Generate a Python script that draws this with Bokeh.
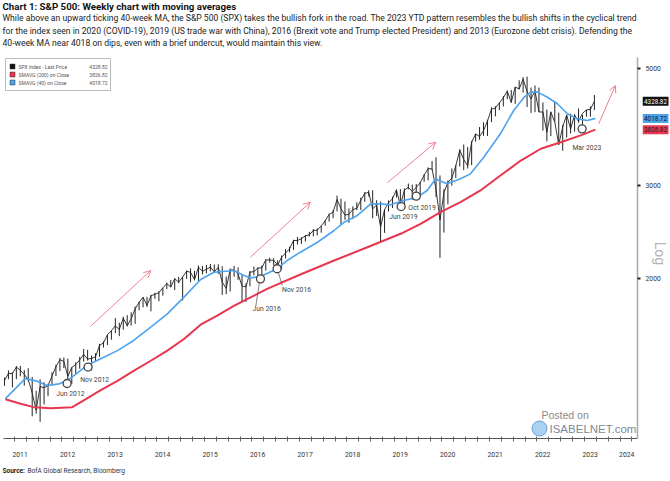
import pandas as pd
from math import log10, pi
from bokeh.plotting import figure
from bokeh.layouts import column, row
from bokeh.models import (Range1d, FixedTicker, CustomJSTickFormatter, Label, Arrow, OpenHead)
from bokeh.core.properties import value
from bokeh.embed import file_html
from bokeh.resources import INLINE

# ---------------- data ----------------
start_month = "2011-01"
end_month = "2023-06"
price_high = [
    1303, 1344, 1332, 1370, 1371, 1346, 1357, 1307, 1230, 1293, 1277, 1269,
    1333, 1378, 1420, 1422, 1415, 1363, 1392, 1426, 1475, 1470, 1434, 1448,
    1509, 1525, 1570, 1598, 1687, 1654, 1698, 1709, 1730, 1775, 1813, 1849,
    1851, 1867, 1884, 1897, 1924, 1968, 1991, 2005, 2019, 2018, 2075, 2094,
    2072, 2120, 2117, 2126, 2135, 2130, 2132, 2113, 2021, 2094, 2117, 2104,
    2038, 1963, 2072, 2111, 2103, 2120, 2178, 2194, 2188, 2169, 2214, 2278,
    2301, 2372, 2401, 2398, 2418, 2454, 2484, 2491, 2519, 2582, 2657, 2695,
    2873, 2835, 2801, 2718, 2742, 2791, 2848, 2917, 2941, 2940, 2816, 2801,
    2708, 2813, 2860, 2949, 2955, 2964, 3028, 3014, 3022, 3050, 3154, 3248,
    3338, 3394, 3136, 2955, 3068, 3233, 3280, 3515, 3588, 3550, 3646, 3760,
    3870, 3950, 3994, 4218, 4238, 4298, 4430, 4537, 4546, 4608, 4743, 4808,
    4819, 4595, 4637, 4594, 4307, 4177, 4140, 4325, 4120, 3905, 4080, 4101,
    4095, 4195, 4079, 4170, 4231, 4448,
]
price_low = [
    1257, 1294, 1249, 1294, 1311, 1258, 1282, 1101, 1114, 1075, 1159, 1202,
    1259, 1312, 1341, 1358, 1291, 1267, 1325, 1354, 1397, 1403, 1343, 1398,
    1426, 1485, 1501, 1536, 1581, 1560, 1604, 1627, 1633, 1646, 1746, 1768,
    1771, 1738, 1834, 1815, 1860, 1915, 1930, 1905, 1964, 1821, 2001, 1972,
    1988, 1981, 2040, 2049, 2068, 2056, 2044, 1867, 1872, 1894, 2019, 1993,
    1812, 1810, 1937, 2033, 2025, 1992, 2074, 2147, 2120, 2114, 2084, 2187,
    2245, 2271, 2322, 2329, 2353, 2405, 2407, 2417, 2446, 2521, 2566, 2605,
    2682, 2533, 2586, 2553, 2594, 2698, 2698, 2796, 2864, 2604, 2631, 2347,
    2444, 2682, 2722, 2849, 2750, 2728, 2952, 2822, 2892, 2855, 3050, 3070,
    3214, 2855, 2192, 2447, 2767, 2999, 3102, 3260, 3209, 3233, 3280, 3633,
    3663, 3725, 3723, 3955, 4056, 4165, 4233, 4367, 4305, 4279, 4560, 4495,
    4223, 4115, 4129, 4132, 3811, 3637, 3721, 3955, 3585, 3492, 3699, 3764,
    3794, 3944, 3809, 4049, 4048, 4166,
]
price_close = [
    1286, 1327, 1326, 1364, 1345, 1321, 1292, 1219, 1131, 1253, 1247, 1258,
    1312, 1366, 1408, 1398, 1310, 1362, 1379, 1407, 1441, 1412, 1416, 1426,
    1498, 1515, 1569, 1598, 1631, 1606, 1686, 1633, 1682, 1757, 1806, 1848,
    1783, 1859, 1872, 1884, 1924, 1960, 1931, 2003, 1972, 2018, 2068, 2059,
    1995, 2105, 2068, 2086, 2107, 2063, 2104, 1972, 1920, 2079, 2080, 2044,
    1940, 1932, 2060, 2065, 2097, 2099, 2174, 2171, 2168, 2126, 2199, 2239,
    2279, 2364, 2363, 2384, 2412, 2423, 2470, 2472, 2519, 2575, 2648, 2674,
    2824, 2714, 2641, 2648, 2705, 2718, 2816, 2902, 2914, 2712, 2760, 2507,
    2704, 2784, 2834, 2946, 2752, 2942, 2980, 2926, 2977, 3038, 3141, 3231,
    3226, 2954, 2585, 2912, 3044, 3100, 3271, 3500, 3363, 3270, 3622, 3756,
    3714, 3811, 3973, 4181, 4204, 4298, 4395, 4523, 4308, 4605, 4567, 4766,
    4516, 4374, 4530, 4132, 4132, 3785, 4130, 3955, 3586, 3872, 4080, 3840,
    4077, 3970, 4109, 4169, 4180, 4328.82,
]

# 40-week moving average (blue), decimal year / value
ma40_date = [2011.06, 2011.27, 2011.48, 2011.73, 2011.94, 2012.19, 2012.36, 2012.78,
             2012.99, 2013.42, 2013.76, 2014.12, 2014.47, 2014.82, 2015.17, 2015.45,
             2015.87, 2016.08, 2016.22, 2016.43, 2016.78, 2016.99, 2017.27, 2017.63,
             2017.98, 2018.19, 2018.47, 2018.75, 2018.96, 2019.17, 2019.45, 2019.73,
             2019.94, 2020.12, 2020.19, 2020.36, 2020.64, 2020.85, 2021.13, 2021.48,
             2021.76, 2021.98, 2022.12, 2022.26, 2022.47, 2022.68, 2022.89, 2023.10,
             2023.31, 2023.48]
ma40_value = [1189, 1242, 1297, 1283, 1259, 1268, 1285, 1374,
              1403, 1465, 1531, 1622, 1719, 1848, 1995, 2060,
              2075, 2030, 2010, 2022, 2091, 2167, 2247, 2346,
              2469, 2560, 2636, 2772, 2772, 2760, 2812, 2853,
              2938, 3091, 3068, 3024, 3091, 3158, 3394, 3758,
              4159, 4406, 4504, 4504, 4406, 4282, 4100, 4011,
              3982, 4018.72]

# 200-week moving average (red)
ma200_date = [2011.06, 2011.38, 2011.66, 2012.01, 2012.47, 2012.71, 2013.06, 2013.42,
              2013.76, 2014.12, 2014.47, 2014.82, 2015.17, 2015.52, 2015.87, 2016.57,
              2017.27, 2017.98, 2018.68, 2019.38, 2019.80, 2020.22, 2020.64, 2021.06,
              2021.48, 2021.91, 2022.33, 2022.75, 2023.17, 2023.48]
ma200_value = [1186, 1163, 1146, 1140, 1146, 1180, 1233, 1285,
               1342, 1402, 1465, 1541, 1640, 1706, 1780, 1916,
               2039, 2167, 2296, 2434, 2542, 2674, 2792, 2938,
               3136, 3346, 3522, 3624, 3732, 3826.82]

# 40-week MA touches that the chart marks
touch_label = ["Jun 2012", "Nov 2012", "Jun 2016", "Nov 2016", "Jun 2019", "Oct 2019", "Mar 2023"]
touch_date = [2012.36, 2012.80, 2016.43, 2016.78, 2019.39, 2019.71, 2023.20]
touch_value = [1270, 1364, 2001, 2091, 2740, 2867, 3840]
touch_label_date = [2012.43, 2012.94, 2016.56, 2017.19, 2019.44, 2019.83, 2023.30]
touch_label_value = [1211, 1292, 1753, 1910, 2616, 2728, 3541]
# leader lines joining two of the markers to their labels
leader_x0 = [2016.41, 2016.80]
leader_y0 = [1975, 2065]
leader_x1 = [2016.33, 2016.89]
leader_y1 = [1775, 1944]

# bullish-shift arrows: start date, start value, end date, end value
arrow_x0 = [2012.85, 2016.22, 2019.10, 2023.55]
arrow_y0 = [1627, 2199, 3038, 3925]
arrow_x1 = [2014.12, 2017.48, 2020.12, 2023.90]
arrow_y1 = [2075, 2792, 3624, 4636]

years = list(range(2011, 2025))
y_ticks = [2000, 3000, 5000]

series_names = ["SPX Index - Last Price", "SMAVG (200)  on Close", "SMAVG (40)  on Close"]
series_last = [4328.82, 3826.82, 4018.72]

title = "Chart 1: S&P 500: Weekly chart with moving averages"
body = [
    "While above an upward ticking 40-week MA, the S&P 500 (SPX) takes the bullish fork in the road. The 2023 YTD pattern resembles the bullish shifts in the cyclical trend",
    "for the index seen in 2020 (COVID-19), 2019 (US trade war with China), 2016 (Brexit vote and Trump elected President) and 2013 (Eurozone debt crisis). Defending the",
    "40-week MA near 4018 on dips, even with a brief undercut, would maintain this view.",
]
source_head = "Source:"
source_text = "BofA Global Research, Bloomberg"

# ---------------- styling / layout ----------------
FONT = "Roboto"
BLACK = "#222222"
RED = "#e8364e"
BLUE = "#4da3ee"
ARROW = "#f08090"

X0, X1 = 2011.021, 2024.366
Y0, Y1 = 1000, 5236
TOP_H, MAIN_W, MAIN_H, SIDE_W, BOT_H = 57, 642, 403, 27, 20
TOTAL_W = MAIN_W + SIDE_W
BL, BR, BB = 3, 5, 22
FW = MAIN_W - BL - BR
FH = MAIN_H - BB


def sx(px):
    return X0 + px / FW * (X1 - X0)


def sy(py):
    return 10 ** (log10(Y0) + py / FH * (log10(Y1) - log10(Y0)))


def blank(w, h, xr, yr):
    f = figure(width=w, height=h, x_range=xr, y_range=yr, x_axis_location=None,
               y_axis_location=None, output_backend="svg", toolbar_location=None,
               min_border=0, outline_line_color=None, background_fill_color="white",
               border_fill_color="white")
    f.grid.visible = False
    return f


# ---- header ----
top = blank(TOTAL_W, TOP_H, Range1d(0, TOTAL_W), Range1d(TOP_H, 0))
top.text(x=[2], y=[6], text=[title], text_font=value(FONT), text_font_size="9.7px",
         text_font_style="bold", text_color="#111111", text_baseline="middle")
top.text(x=[2, 2, 2], y=[17.5, 30, 42.5], text=body, text_font=value(FONT),
         text_font_size="8.6px", text_color="#222222", text_baseline="middle")

# ---- main chart ----
yr = Range1d(Y0, Y1)
p = figure(width=MAIN_W, height=MAIN_H, x_range=Range1d(X0, X1), y_range=yr,
           y_axis_type="log", y_axis_location="right",
           output_backend="svg", toolbar_location=None,
           min_border_left=BL, min_border_right=BR, min_border_top=0, min_border_bottom=BB,
           background_fill_color="white", border_fill_color="white", outline_line_color=None)
p.grid.visible = False

ya = p.yaxis[0]
ya.ticker = FixedTicker(ticks=y_ticks)
ya.axis_line_color = "#a8a8a8"
ya.axis_line_width = 1.5
ya.major_tick_in = 0
ya.major_tick_out = 3
ya.major_tick_line_color = "#222222"
ya.major_tick_line_width = 2
ya.minor_tick_line_color = None
ya.major_label_text_color = None
ya.major_label_text_font_size = "1px"
ya.major_label_standoff = 0

quarters = [y + q / 4 for y in range(2011, 2025) for q in range(4)]
label_pos = [y + 0.37 for y in years[:-1]] + [years[-1] + 0.14]
xa = p.xaxis[0]
xa.ticker = FixedTicker(ticks=label_pos, minor_ticks=quarters)
xa.formatter = CustomJSTickFormatter(code="return Math.floor(tick).toString();")
xa.axis_line_color = "#555555"
xa.major_tick_in = 0
xa.major_tick_out = 0
xa.minor_tick_in = 2
xa.minor_tick_out = 3
xa.minor_tick_line_color = "#666666"
xa.major_label_text_font = FONT
xa.major_label_text_font_size = "6.8px"
xa.major_label_text_color = "#333333"
xa.major_label_standoff = 10

months = pd.period_range(start_month, end_month, freq="M")
month_t = [m.year + (m.month - 0.5) / 12 for m in months]

p.segment(x0=month_t, y0=price_low, x1=month_t, y1=price_high, line_color=BLACK, line_width=1.0)
p.line(month_t, price_close, line_color=BLACK, line_width=0.9)
p.line(ma200_date, ma200_value, line_color=RED, line_width=2)
p.line(ma40_date, ma40_value, line_color=BLUE, line_width=1.6)

for xa0, ya0, xb, yb in zip(arrow_x0, arrow_y0, arrow_x1, arrow_y1):
    p.add_layout(Arrow(end=OpenHead(size=7, line_color=ARROW, line_width=1),
                       x_start=xa0, y_start=ya0, x_end=xb, y_end=yb,
                       line_color=ARROW, line_width=1))

p.segment(x0=leader_x0, y0=leader_y0, x1=leader_x1, y1=leader_y1,
          line_color="#666666", line_width=0.8)
p.scatter(touch_date, touch_value, marker="circle", size=8, fill_color="white",
          line_color="#444444", line_width=1.3)
p.text(x=touch_label_date, y=touch_label_value, text=touch_label, text_font=value(FONT),
       text_font_size="6.8px", text_color="#444444", text_align="center", text_baseline="middle")

# legend box
p.quad(left=[sx(2)], right=[sx(107)], bottom=[sy(348)], top=[sy(380)],
       fill_color="white", line_color="#bbbbbb", line_width=1)
rows = [sy(372), sy(364), sy(356)]
p.scatter(x=[sx(9)] * 3, y=rows, marker="square", size=5,
          fill_color=["#111111", RED, BLUE], line_color="#333333", line_width=0.5)
p.text(x=[sx(15)] * 3, y=rows, text=series_names, text_font=value(FONT), text_font_size="5px",
       text_color="#555555", text_align="left", text_baseline="middle")
p.text(x=[sx(104)] * 3, y=rows, text=[f"{v:.2f}" for v in series_last], text_font=value(FONT),
       text_font_size="5px", text_color="#555555", text_align="right", text_baseline="middle")

# watermark
p.scatter([sx(536)], [sy(10)], marker="circle", size=15, fill_color="#a9d2f2",
          line_color="#6a9fd0", line_width=1)
p.add_layout(Label(x=538, y=24, x_units="screen", y_units="screen", text="Posted on",
                   text_font="Liberation Sans", text_font_size="10.5px", text_color="#8a8a8a",
                   text_baseline="middle"))
p.add_layout(Label(x=546, y=10, x_units="screen", y_units="screen", text="ISABELNET.com",
                   text_font="Liberation Sans", text_font_size="11.5px", text_color="#7d8898",
                   text_baseline="middle"))

# ---- right strip: axis values, last-value tags, scale name ----
side = blank(SIDE_W, MAIN_H, Range1d(0, SIDE_W), yr)
side.min_border_bottom = BB
side.y_scale = p.y_scale.__class__()
side.text(x=[3] * len(y_ticks), y=y_ticks, text=[str(t) for t in y_ticks], text_font=value(FONT),
          text_font_size="6.8px", text_color="#333333", text_baseline="middle")
tag_fill = ["#111111", RED, BLUE]
tag_text = ["white", "#222222", "#111111"]
side.rect(x=[13] * 3, y=series_last, width=26, height=9, height_units="screen",
          fill_color=tag_fill, line_color=None)
side.text(x=[13] * 3, y=series_last, text=[f"{v:.2f}" for v in series_last],
          text_font=value(FONT), text_font_size="6.3px", text_color=tag_text,
          text_align="center", text_baseline="middle")
side.text(x=[17], y=[2234], text=["Log"], angle=-pi / 2, text_font=value(FONT),
          text_font_size="14px", text_color="#b4b4b4", text_align="center",
          text_baseline="middle")

# ---- footer ----
bot = blank(TOTAL_W, BOT_H, Range1d(0, TOTAL_W), Range1d(BOT_H, 0))
bot.text(x=[2], y=[10], text=[source_head], text_font=value(FONT), text_font_size="6.5px",
         text_font_style="bold", text_color="#222222", text_baseline="middle")
bot.text(x=[27], y=[10], text=[source_text], text_font=value(FONT), text_font_size="6.5px",
         text_color="#333333", text_baseline="middle")

layout = column(top, row(p, side, spacing=0), bot, spacing=0)
open("out.html", "w").write(file_html(layout, INLINE))
